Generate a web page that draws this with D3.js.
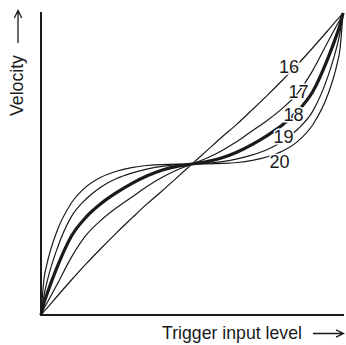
<!DOCTYPE html>
<html><head><meta charset="utf-8">
<script src="https://cdn.jsdelivr.net/npm/d3@7"></script>
<style>html,body{margin:0;padding:0;background:#fff;}svg{display:block;}</style>
</head><body>
<script>
// Normalized trigger input level samples
const xs = [0, .01, .02, .05, .1, .15, .2, .25, .3, .35, .4, .45, .5,
            .55, .6, .65, .7, .75, .8, .85, .9, .95, .98, .99, 1];
const curveNames = ["16", "17", "18", "19", "20"];
const curve16 = [0, .012, .023, .058, .115, .17, .222, .272, .32, .367, .41, .455, .5,
                 .545, .59, .633, .68, .728, .778, .83, .885, .942, .977, .988, 1];
const curve17 = [0, .022, .04, .095, .19, .265, .315, .355, .39, .425, .455, .48, .5,
                 .52, .545, .575, .61, .645, .685, .735, .81, .905, .96, .978, 1];
const curve18 = [0, .04, .07, .15, .26, .325, .37, .405, .435, .46, .479, .492, .5,
                 .508, .521, .54, .565, .595, .63, .675, .74, .85, .93, .96, 1];
const curve19 = [0, .065, .11, .21, .325, .385, .425, .452, .47, .483, .492, .498, .5,
                 .502, .508, .517, .53, .548, .575, .615, .675, .79, .89, .935, 1];
const curve20 = [0, .12, .17, .27, .37, .425, .457, .476, .488, .495, .498, .4995, .5,
                 .5005, .502, .505, .512, .524, .543, .575, .63, .73, .83, .88, 1];
const xLabel = "Trigger input level";
const yLabel = "Velocity";

const W = 346, H = 345;
const svg = d3.select("body").append("svg").attr("width", W).attr("height", H);
const x = d3.scaleLinear().domain([0, 1]).range([41, 343]);
const y = d3.scaleLinear().domain([0, 1]).range([315, 13]);

const series = [curve16, curve17, curve18, curve19, curve20];
const line = d3.line().x((d, i) => x(xs[i])).y(d => y(d)).curve(d3.curveMonotoneX);
const ink = "#1a1a1a";

svg.append("g").selectAll("path").data(series).join("path")
  .attr("d", line)
  .attr("fill", "none")
  .attr("stroke", ink)
  .attr("stroke-width", (d, i) => curveNames[i] === "18" ? 3.2 : 1.2);

// axes
svg.append("line").attr("x1", x(0)).attr("x2", x(0)).attr("y1", 12).attr("y2", 316)
  .attr("stroke", ink).attr("stroke-width", 2);
svg.append("line").attr("x1", 40).attr("x2", 344).attr("y1", y(0)).attr("y2", y(0))
  .attr("stroke", ink).attr("stroke-width", 2);

// curve labels (baseline anchors in data units)
const labelPos = [[0.821, 0.801], [0.853, 0.7185], [0.836, 0.642], [0.803, 0.568], [0.79, 0.487]];
svg.append("g").selectAll("text").data(curveNames).join("text")
  .attr("x", (d, i) => x(labelPos[i][0]))
  .attr("y", (d, i) => y(labelPos[i][1]))
  .attr("text-anchor", "middle")
  .attr("font-family", "Liberation Sans, Arial, sans-serif")
  .attr("font-size", 18)
  .attr("fill", ink)
  .attr("stroke", "#fff").attr("stroke-width", 3).attr("paint-order", "stroke")
  .text(d => d);

// axis titles
svg.append("text").attr("x", 162).attr("y", 339)
  .attr("font-family", "Liberation Sans, Arial, sans-serif").attr("font-size", 17.7)
  .attr("fill", ink).text(xLabel);
svg.append("text").attr("transform", "translate(22.5,116) rotate(-90)")
  .attr("font-family", "Liberation Sans, Arial, sans-serif").attr("font-size", 17.7)
  .attr("fill", ink).text(yLabel);

// arrows
svg.append("path").attr("d", "M313,333.5 H343 M336,329.8 L343.5,333.5 L336,337.2")
  .attr("fill", "none").attr("stroke", ink).attr("stroke-width", 1.3);
svg.append("path").attr("d", "M18,43 V11 M14.3,18 L18,10.5 L21.7,18")
  .attr("fill", "none").attr("stroke", ink).attr("stroke-width", 1.3);
</script>
</body></html>
